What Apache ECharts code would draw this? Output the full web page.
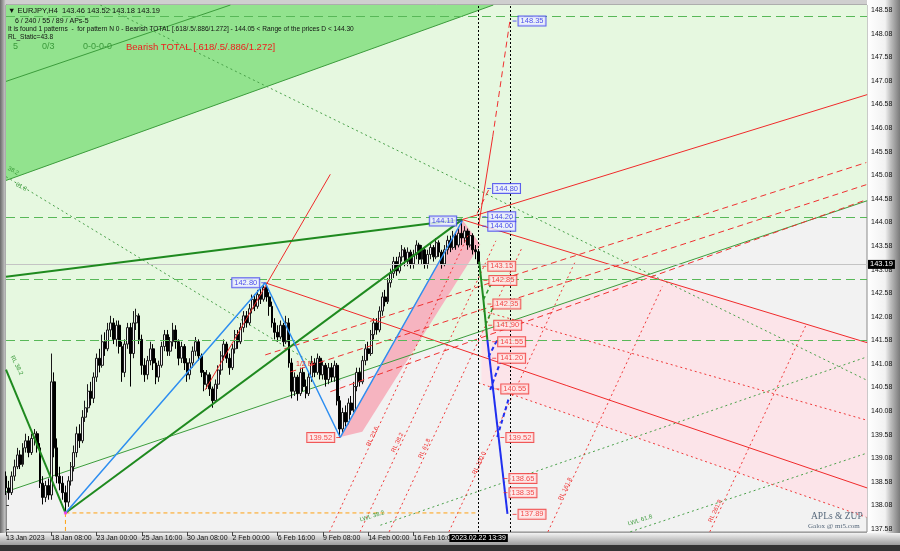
<!DOCTYPE html>
<html>
<head>
<meta charset="utf-8">
<script src="https://cdn.jsdelivr.net/npm/echarts@6/dist/echarts.min.js"></script>
<style>
  html, body { margin: 0; padding: 0; background: #303030; }
  #wrap { position: relative; width: 900px; height: 551px; overflow: hidden; background: #b4b4b4; }
  #wrap .f { position: absolute; }
  #chart { position: absolute; left: 0; top: 0; width: 900px; height: 551px; }
</style>
</head>
<body>
<div id="wrap">
  <div class="f" style="left:0;top:0;width:900px;height:5px;background:#cfcfcf"></div>
  <div class="f" style="left:0;top:0;width:6px;height:545px;background:linear-gradient(to right,#6a6a6a,#d4d4d4)"></div>
  <div class="f" style="left:867px;top:0;width:33px;height:545px;background:linear-gradient(to right,#ffffff 0%,#f2f2f2 55%,#bdbdbd 72%,#7a7a7a 100%)"></div>
  <div class="f" style="left:0;top:533px;width:900px;height:12px;background:linear-gradient(to bottom,#f2f2f2,#9c9c9c)"></div>
  <div class="f" style="left:0;top:545px;width:900px;height:6px;background:#333"></div>
  <div id="chart"></div>
</div>
<script>
// EURJPY H4, bar index 0 = 13 Jan 2023 16:00
const xTickBars = [0, 16, 32, 48, 64, 80, 96, 112, 128, 144]
const xTickLabels = ['13 Jan 2023', '18 Jan 08:00', '23 Jan 00:00', '25 Jan 16:00', '30 Jan 08:00',
  '2 Feb 00:00', '6 Feb 16:00', '9 Feb 08:00', '14 Feb 00:00', '16 Feb 16:00']
const yTicks = [137.58, 138.08, 138.58, 139.08, 139.58, 140.08, 140.58, 141.08, 141.58, 142.08, 142.58,
  143.08, 143.58, 144.08, 144.58, 145.08, 145.58, 146.08, 146.58, 147.08, 147.58, 148.08, 148.58]

// [open, close, low, high]
const candles = [
  [138.70, 138.45, 138.30, 138.80], [138.45, 138.35, 138.20, 138.60], [138.35, 138.70, 138.30, 138.80],
  [138.70, 138.90, 138.60, 139.05], [138.90, 139.15, 138.85, 139.30], [139.15, 138.95, 138.85, 139.25],
  [138.95, 139.30, 138.90, 139.40], [139.30, 139.45, 139.20, 139.60], [139.45, 139.20, 139.10, 139.55],
  [139.20, 139.50, 139.15, 139.60], [139.50, 139.60, 139.35, 139.70], [139.60, 139.30, 139.20, 139.65],
  [139.30, 138.55, 138.45, 139.40], [138.55, 138.25, 138.10, 138.70], [138.25, 138.50, 138.15, 138.60],
  [138.50, 138.30, 138.20, 138.65], [138.30, 140.70, 138.20, 141.30], [140.70, 139.30, 139.10, 140.90],
  [139.30, 138.70, 138.55, 139.50], [138.70, 138.55, 138.40, 138.90], [138.55, 138.35, 138.20, 138.70],
  [138.35, 138.15, 137.92, 138.50], [138.15, 138.60, 138.05, 138.70], [138.60, 138.90, 138.50, 139.00],
  [138.90, 139.20, 138.80, 139.35], [139.20, 139.60, 139.10, 139.75], [139.60, 139.45, 139.30, 139.80],
  [139.45, 139.95, 139.40, 140.10], [139.95, 140.15, 139.85, 140.30], [140.15, 140.50, 140.05, 140.65],
  [140.50, 140.35, 140.20, 140.70], [140.35, 140.80, 140.25, 140.90], [140.80, 141.20, 140.70, 141.30],
  [141.20, 141.05, 140.90, 141.40], [141.05, 141.55, 141.00, 141.70], [141.55, 141.40, 141.25, 141.75],
  [141.40, 141.80, 141.35, 141.95], [141.80, 141.95, 141.65, 142.10], [141.95, 141.60, 141.50, 142.05],
  [141.60, 141.90, 141.45, 142.00], [141.90, 141.45, 141.30, 142.00], [141.45, 140.90, 140.70, 141.55],
  [140.90, 141.50, 140.80, 141.60], [141.50, 141.85, 141.40, 141.95], [141.85, 141.30, 140.60, 141.95],
  [141.30, 141.95, 141.20, 142.20], [141.95, 142.10, 141.80, 142.25], [142.10, 141.60, 141.50, 142.15],
  [141.60, 141.05, 140.85, 141.70], [141.05, 140.85, 140.70, 141.20], [140.85, 141.15, 140.75, 141.25],
  [141.15, 141.40, 141.05, 141.55], [141.40, 141.10, 140.95, 141.50], [141.10, 140.80, 140.65, 141.20],
  [140.80, 141.05, 140.70, 141.15], [141.05, 141.45, 141.00, 141.55], [141.45, 141.70, 141.35, 141.80],
  [141.70, 141.35, 141.25, 141.80], [141.35, 141.55, 141.25, 141.65], [141.55, 141.80, 141.45, 141.95],
  [141.80, 141.55, 141.40, 141.90], [141.55, 141.20, 141.05, 141.60], [141.20, 141.45, 141.10, 141.55],
  [141.45, 141.10, 140.95, 141.50], [141.10, 140.85, 140.70, 141.20], [140.85, 141.10, 140.75, 141.20],
  [141.10, 141.35, 141.00, 141.45], [141.35, 141.55, 141.25, 141.65], [141.55, 141.25, 141.15, 141.60],
  [141.25, 140.90, 140.80, 141.30], [140.90, 140.65, 140.50, 140.95], [140.65, 140.85, 140.55, 140.95],
  [140.85, 140.55, 140.40, 140.90], [140.55, 140.30, 140.15, 140.60], [140.30, 140.65, 140.25, 140.75],
  [140.65, 140.95, 140.55, 141.05], [140.95, 141.25, 140.85, 141.35], [141.25, 141.50, 141.15, 141.60],
  [141.50, 141.20, 141.10, 141.55], [141.20, 141.00, 140.85, 141.30], [141.00, 141.40, 140.95, 141.50],
  [141.40, 141.70, 141.30, 141.80], [141.70, 141.55, 141.40, 141.80], [141.55, 141.85, 141.50, 141.95],
  [141.85, 142.10, 141.75, 142.20], [142.10, 141.95, 141.85, 142.20], [141.95, 142.25, 141.90, 142.35],
  [142.25, 142.45, 142.15, 142.55], [142.45, 142.30, 142.20, 142.55], [142.30, 142.55, 142.25, 142.65],
  [142.55, 142.45, 142.35, 142.70], [142.45, 142.70, 142.40, 142.78], [142.70, 142.50, 142.40, 142.80],
  [142.50, 142.30, 142.10, 142.60], [142.30, 141.95, 141.85, 142.40], [141.95, 141.75, 141.60, 142.05],
  [141.75, 141.65, 141.55, 141.90], [141.65, 141.90, 141.60, 142.00], [141.90, 141.55, 141.45, 141.95],
  [141.55, 141.95, 141.50, 142.10], [141.95, 141.10, 141.00, 142.05], [141.10, 140.50, 140.35, 141.20],
  [140.50, 140.80, 140.40, 140.90], [140.80, 140.45, 140.30, 140.85], [140.45, 140.90, 140.40, 141.00],
  [140.90, 140.60, 140.50, 141.00], [140.60, 140.45, 140.35, 140.75], [140.45, 140.80, 140.40, 140.90],
  [140.80, 141.10, 140.70, 141.25], [141.10, 140.90, 140.80, 141.20], [140.90, 141.20, 140.85, 141.30],
  [141.20, 140.85, 140.75, 141.25], [140.85, 141.05, 140.75, 141.15], [141.05, 140.75, 140.60, 141.10],
  [140.75, 141.00, 140.65, 141.10], [141.00, 140.80, 140.70, 141.10], [140.80, 141.05, 140.70, 141.15],
  [141.05, 140.30, 140.20, 141.10], [140.30, 139.70, 139.52, 140.40], [139.70, 140.05, 139.60, 140.15],
  [140.05, 139.85, 139.75, 140.20], [139.85, 140.25, 139.80, 140.35], [140.25, 140.10, 140.00, 140.40],
  [140.10, 140.60, 140.05, 140.70], [140.60, 140.90, 140.50, 141.00], [140.90, 140.70, 140.60, 141.00],
  [140.70, 141.15, 140.65, 141.25], [141.15, 141.40, 141.05, 141.50], [141.40, 141.30, 141.15, 141.55],
  [141.30, 141.70, 141.25, 141.80], [141.70, 141.95, 141.60, 142.05], [141.95, 141.80, 141.70, 142.05],
  [141.80, 142.20, 141.75, 142.30], [142.20, 142.50, 142.10, 142.60], [142.50, 142.40, 142.30, 142.65],
  [142.40, 142.80, 142.35, 142.90], [142.80, 143.00, 142.70, 143.10], [143.00, 143.25, 142.90, 143.35],
  [143.25, 143.05, 142.95, 143.35], [143.05, 143.35, 143.00, 143.45], [143.35, 143.50, 143.25, 143.60],
  [143.50, 143.25, 143.15, 143.55], [143.25, 143.45, 143.15, 143.55], [143.45, 143.20, 143.10, 143.50],
  [143.20, 143.40, 143.10, 143.50], [143.40, 143.60, 143.30, 143.70], [143.60, 143.30, 143.20, 143.65],
  [143.30, 143.50, 143.20, 143.60], [143.50, 143.20, 143.10, 143.55], [143.20, 143.40, 143.10, 143.50],
  [143.40, 143.55, 143.30, 143.65], [143.55, 143.35, 143.25, 143.60], [143.35, 143.65, 143.30, 143.75],
  [143.65, 143.45, 143.35, 143.70], [143.45, 143.20, 143.10, 143.50], [143.20, 143.50, 143.15, 143.60],
  [143.50, 143.70, 143.40, 143.80], [143.70, 143.55, 143.45, 143.80], [143.55, 143.80, 143.50, 143.90],
  [143.80, 143.60, 143.50, 143.85], [143.60, 143.85, 143.55, 143.95], [143.85, 143.75, 143.60, 144.11],
  [143.75, 143.90, 143.65, 144.00], [143.90, 143.60, 143.50, 143.95], [143.60, 143.80, 143.55, 143.90],
  [143.80, 143.50, 143.40, 143.85], [143.50, 143.46, 143.30, 143.60], [143.46, 143.19, 143.18, 143.52]
]
const lastPrice = 143.19

// X-A-B-C pivots of the pattern
const zigBars = [21, 91.6, 118.1, 161.2]
const zigPrices = [137.92, 142.80, 139.52, 144.11]

// shaded areas, vertices as [bar, price]
const darkGreenBand = [[0, 148.69], [172.2, 148.69], [0, 144.97]]
const lightGreenZone = [[0, 138.37], [304.3, 144.54], [304.3, 148.69], [0, 148.69]]
const pinkZone = [[168, 144.01], [304.3, 141.53], [304.3, 137.83], [168, 140.66]]
const pinkBand = [[118.1, 139.53], [161.2, 144.14], [167.6, 143.61], [125.9, 139.64]]

// trend / fan lines, each a list of [bar, price]
const greenThick = [
  [[21, 137.92], [161.2, 144.14]],
  [[0, 142.93], [161.2, 144.14]],
  [[0, 140.96], [21, 137.92]],
  [[167.2, 143.25], [168.7, 142.44], [170.1, 141.59]]
]
const greenThin = [
  [[0, 138.37], [304.3, 144.54]],
  [[0, 144.97], [172.2, 148.69]],
  [[0, 147.07], [79.3, 148.69]]
]
const greenDashed = [
  [[168.7, 142.44], [171.8, 142.82]],
  [[169.4, 141.91], [172.2, 142.29]]
]
const greenDotted = [
  [[33.3, 148.69], [304, 140.74]],
  [[0, 145.05], [118.1, 140.74]],
  [[132.3, 137.66], [304.3, 141.23]],
  [[220.6, 137.52], [304.3, 139.19]]
]
const redSolid = [
  [[161.2, 144.14], [304.3, 146.79]],
  [[161.2, 144.14], [304.3, 141.53]],
  [[91.6, 142.80], [304.3, 138.45]],
  [[70.4, 140.53], [114.6, 145.10]],
  [[166.9, 143.97], [172, 145.90]]
]
const redDashed = [
  [[91.6, 141.27], [304, 145.35]],
  [[100.5, 140.91], [304, 144.88]],
  [[114.6, 140.49], [304, 144.56]],
  [[172, 145.90], [178.2, 148.41]],
  [[166.5, 144.27], [171.1, 144.84]]
]
const redDotted = [
  [[166.9, 142.23], [304, 139.89]],
  [[166.9, 140.68], [304, 137.83]],
  [[114.3, 137.52], [163.6, 143.85]],
  [[125.1, 137.52], [173.1, 143.69]],
  [[135.4, 137.52], [182.3, 143.54]],
  [[156.5, 137.52], [201.0, 143.23]],
  [[191.5, 137.52], [231.9, 142.72]],
  [[248.7, 137.52], [282.6, 141.89]]
]
const blueSolid = [
  [[170.1, 141.59], [177.2, 137.90]]
]
const blueDashed = [
  [[170.5, 141.23], [173.6, 141.59]],
  [[171.1, 140.53], [174.7, 141.12]],
  [[173.6, 139.53], [177.8, 140.38]]
]
const orangeDashed = [
  [[21, 137.92], [167, 137.92]],
  [[21, 137.92], [21, 137.52]]
]
const levelLines = [148.45, 144.20, 142.87, 141.58]
const timeLines = [167, 178.2]

// price tags of the projection
const blueTagBars = [179, 170, 168.3, 168.3]
const blueTagPrices = [148.35, 144.80, 144.20, 144.00]
const redTagBars = [168.3, 168.7, 170.1, 170.4, 171.8, 171.8, 172.9, 174.7, 175.8, 175.8, 179]
const redTagPrices = [143.15, 142.85, 142.35, 141.90, 141.55, 141.20, 140.55, 139.52, 138.65, 138.35, 137.89]

const FONT = 'Liberation Sans'
const chart = echarts.init(document.getElementById('chart'))

function segs (list, style, z) {
  return list.map(pts => ({
    type: 'line', data: pts, symbol: 'none', silent: true, z: z || 4,
    animation: false, lineStyle: style
  }))
}

function area (poly, color, z) {
  return {
    type: 'custom', silent: true, z: z, animation: false,
    data: [poly[0]],
    renderItem: (params, api) => ({
      type: 'polygon',
      shape: { points: poly.map(p => api.coord(p)) },
      style: { fill: color }
    })
  }
}

function tagSeries (bars, prices, side, txt, border, bg) {
  return {
    type: 'scatter', silent: true, z: 8, animation: false,
    symbol: 'rect', symbolSize: [4, 1], symbolOffset: side === 'right' ? [2, 0] : [-2, 0],
    itemStyle: { color: border },
    data: bars.map((b, i) => [b, prices[i]]),
    label: {
      show: true, position: side, distance: 2,
      formatter: p => p.value[1].toFixed(2),
      color: txt, fontFamily: FONT, fontSize: 7.5,
      backgroundColor: bg, borderColor: border, borderWidth: 1, padding: [1, 2, 0, 2]
    }
  }
}

const zigData = zigBars.map((b, i) => [b, zigPrices[i]])

const series = [
  area(pinkZone, '#fce4e9', 1),
  area(lightGreenZone, '#e6f8e0', 1),
  area(darkGreenBand, '#92e38e', 1),
  area(pinkBand, '#f6b4c0', 1),
  {
    type: 'candlestick', z: 3, animation: false, silent: true,
    barWidth: 2.4,
    encode: { x: 0, y: [1, 2, 3, 4] },
    data: candles.map((c, i) => [i, c[0], c[1], c[2], c[3]]),
    itemStyle: { color: '#f4f4f4', color0: '#000000', borderColor: '#1a1a1a', borderColor0: '#000', borderWidth: 1 }
  },
  {
    type: 'line', data: [], silent: true, z: 2, animation: false,
    markLine: {
      silent: true, symbol: 'none', animation: false,
      label: { show: false },
      lineStyle: { color: '#58b858', type: [9, 5], width: 1 },
      data: levelLines.map(v => ({ yAxis: v }))
    }
  },
  {
    type: 'line', data: [], silent: true, z: 2, animation: false,
    markLine: {
      silent: true, symbol: 'none', animation: false,
      lineStyle: { color: '#c4c4c4', type: 'solid', width: 1 },
      label: {
        show: true, position: 'end', distance: 1, formatter: lastPrice.toFixed(2),
        backgroundColor: '#000', color: '#fff', fontFamily: FONT, fontSize: 7.5, padding: [1, 2, 0, 2]
      },
      data: [{ yAxis: lastPrice }]
    }
  },
  {
    type: 'line', data: [], silent: true, z: 5, animation: false,
    markLine: {
      silent: true, symbol: 'none', animation: false,
      lineStyle: { color: '#000', type: [2, 2], width: 1 },
      label: { show: false },
      data: [
        {
          xAxis: timeLines[0],
          label: {
            show: true, position: 'start', distance: 2, formatter: '2023.02.22 13:39',
            backgroundColor: '#000', color: '#fff', fontFamily: FONT, fontSize: 7, padding: [1, 2, 0, 2]
          }
        },
        { xAxis: timeLines[1] }
      ]
    }
  },
  ...segs(greenThin, { color: '#3c9c3c', width: 1 }, 2),
  ...segs(greenDotted, { color: '#4aa04a', width: 1, type: [2, 3] }, 2),
  ...segs(redDotted, { color: '#f03a3a', width: 1, type: [2, 3] }, 4),
  ...segs(redDashed, { color: '#f03030', width: 1, type: [6, 4] }, 4),
  ...segs(redSolid, { color: '#f02a2a', width: 1 }, 4),
  ...segs(orangeDashed, { color: '#ffa010', width: 1, type: [4, 3] }, 4),
  ...segs(greenThick, { color: '#1f8a1f', width: 2 }, 5),
  ...segs(greenDashed, { color: '#2a942a', width: 1.5, type: [4, 3] }, 5),
  {
    type: 'line', data: zigData, symbol: 'none', silent: true, z: 6, animation: false,
    lineStyle: { color: '#2e8ef0', width: 1.5 }
  },
  ...segs(blueSolid, { color: '#1f2ff0', width: 2 }, 6),
  ...segs(blueDashed, { color: '#1f2ff0', width: 2, type: [4, 3] }, 6),
  {
    type: 'scatter', silent: true, z: 7, animation: false, symbol: 'rect', symbolSize: 3,
    itemStyle: { color: '#ff30ff' }, data: [zigData[0]]
  },
  tagSeries(blueTagBars, blueTagPrices, 'right', '#2323e8', '#3a3af0', '#eef0ff'),
  tagSeries(redTagBars, redTagPrices, 'right', '#f02020', '#f03030', '#ffe6e6'),
  tagSeries([zigBars[1], zigBars[3]], [zigPrices[1], zigPrices[3]], 'left', '#2323e8', '#3a3af0', '#eef0ff'),
  tagSeries([zigBars[2]], [zigPrices[2]], 'left', '#f02020', '#f03030', '#ffe6e6')
]

function txt (x, y, text, fill, size, rot, family) {
  return {
    type: 'text', x: x, y: y, rotation: rot || 0, z: 100, silent: true,
    style: { text: text, fill: fill, fontSize: size, fontFamily: family || FONT, verticalAlign: 'middle' }
  }
}

const option = {
  animation: false,
  grid: { left: 6, top: 5, width: 861, height: 527, show: true, backgroundColor: '#f2f2f2', borderColor: '#8a8a8a', borderWidth: 1 },
  xAxis: {
    type: 'value', min: 0, max: 304.25,
    splitLine: { show: false },
    axisLine: { show: false },
    axisTick: { show: true, customValues: xTickBars, length: 4, lineStyle: { color: '#444' } },
    axisLabel: {
      customValues: xTickBars, align: 'left', margin: 3, color: '#111', fontFamily: FONT, fontSize: 7,
      formatter: v => xTickLabels[xTickBars.indexOf(Math.round(v))] || ''
    }
  },
  yAxis: {
    type: 'value', position: 'right', min: 137.516, max: 148.69, scale: true,
    splitLine: { show: false },
    axisLine: { show: true, lineStyle: { color: '#8a8a8a' } },
    axisTick: { show: true, customValues: yTicks, length: 3, lineStyle: { color: '#444' } },
    axisLabel: {
      customValues: yTicks, margin: 4, color: '#111', fontFamily: FONT, fontSize: 7,
      formatter: v => v.toFixed(2)
    }
  },
  graphic: [
    txt(8, 11, '\u25BC EURJPY,H4  143.46 143.52 143.18 143.19', '#111', 7.5),
    txt(15, 21, '6 / 240 / 55 / 89 / APs-5', '#111', 7),
    txt(8, 29, 'It is found 1 patterns  -  for pattern N 0 - Bearish TOTAL [.618/.5/.886/1.272] - 144.05 < Range of the prices D < 144.30', '#111', 6.6),
    txt(8, 37, 'RL_Static=43.8', '#111', 6.6),
    txt(13, 47, '5', '#3a9a3a', 9),
    txt(42, 47, '0/3', '#3a9a3a', 9),
    txt(83, 47, '0-0-0-0', '#3a9a3a', 9),
    txt(126, 47, 'Bearish TOTAL [.618/.5/.886/1.272]', '#f01c1c', 9.5),
    txt(296, 364, '1/2 M', '#f03030', 7),
    txt(8, 168, '38.2', '#3a9a3a', 6, -0.5),
    txt(16, 184, '61.8', '#3a9a3a', 6, -0.5),
    txt(12, 356, 'RL 38.2', '#3a9a3a', 6, -1.1),
    txt(368, 446, 'RL 23.6', '#f03030', 6, 1.13),
    txt(393, 452, 'RL 38.2', '#f03030', 6, 1.13),
    txt(420, 458, 'RL 61.8', '#f03030', 6, 1.13),
    txt(474, 474, 'RL 100.0', '#f03030', 6, 1.13),
    txt(560, 500, 'RL 161.8', '#f03030', 6, 1.13),
    txt(710, 522, 'RL 261.8', '#f03030', 6, 1.13),
    txt(360, 520, 'LWL 38.2', '#3a9a3a', 6, 0.3),
    txt(628, 524, 'LWL 61.8', '#3a9a3a', 6, 0.3),
    txt(811, 516, 'APLs & ZUP', '#55677a', 9.5, 0, 'Liberation Serif'),
    txt(808, 526, 'Galox @ mt5.com', '#55677a', 7, 0, 'Liberation Serif')
  ],
  series: series
}

chart.setOption(option)
</script>
</body>
</html>
